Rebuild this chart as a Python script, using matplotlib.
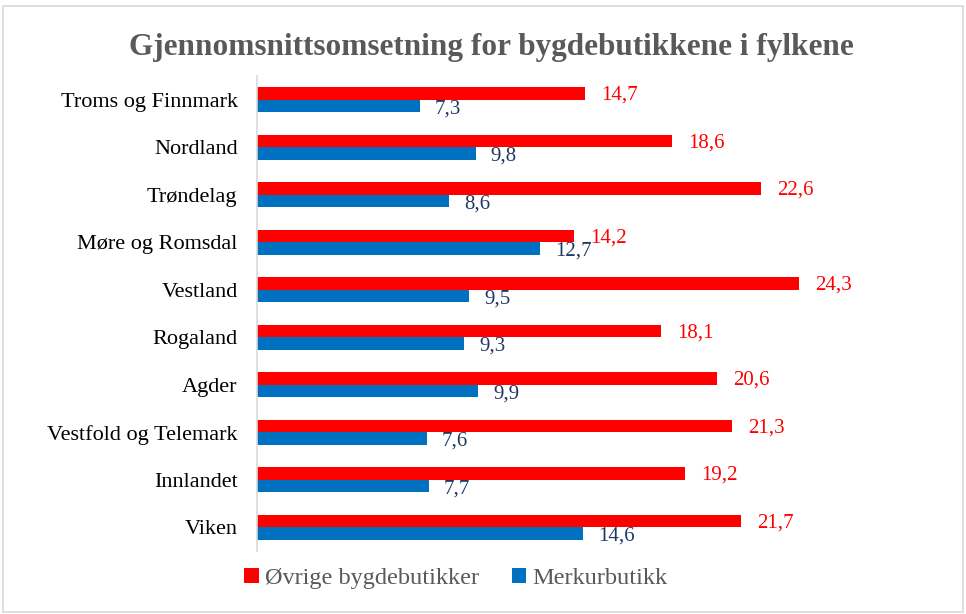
import numpy as np
import matplotlib.pyplot as plt
from matplotlib.patches import Rectangle

fylker = ["Troms og Finnmark", "Nordland", "Trøndelag", "Møre og Romsdal", "Vestland",
          "Rogaland", "Agder", "Vestfold og Telemark", "Innlandet", "Viken"]
ovrige = [14.7, 18.6, 22.6, 14.2, 24.3, 18.1, 20.6, 21.3, 19.2, 21.7]
merkur = [7.3, 9.8, 8.6, 12.7, 9.5, 9.3, 9.9, 7.6, 7.7, 14.6]

red = "#FF0000"
blue = "#0070C0"
navy = "#1F3864"
grey = "#595959"

plt.rcParams['font.family'] = ['Liberation Serif', 'DejaVu Serif']

fig = plt.figure(figsize=(9.66, 6.14), dpi=100)
ax = fig.add_axes([0.266, 0.1026, 0.693, 0.7736])

y = np.arange(len(fylker))
h = 0.265
ax.barh(y - h / 2, ovrige, height=h, color=red, label="Øvrige bygdebutikker")
ax.barh(y + h / 2, merkur, height=h, color=blue, label="Merkurbutikk")

for i in range(len(fylker)):
    ax.text(ovrige[i] + 0.72, y[i] - h / 2 + 0.04, f"{ovrige[i]:.1f}".replace(".", ","),
            color=red, fontsize=15, va="center", ha="left")
    ax.text(merkur[i] + 0.68, y[i] + h / 2 + 0.06, f"{merkur[i]:.1f}".replace(".", ","),
            color=navy, fontsize=15, va="center", ha="left")

ax.set_ylim(len(fylker) - 0.5, -0.5)
ax.set_xlim(0, 30)
ax.set_yticks(y)
ax.set_yticklabels(fylker, fontsize=16)
ax.set_xticks([])
ax.tick_params(axis="y", length=0, pad=14)
for s in ["top", "right", "bottom"]:
    ax.spines[s].set_visible(False)
ax.spines["left"].set_color("#D9D9D9")
ax.spines["left"].set_linewidth(1.2)

fig.text(0.509, 0.923, "Gjennomsnittsomsetning for bygdebutikkene i fylkene",
         ha="center", va="center", fontsize=22.5, fontweight="bold", color=grey)

leg = fig.legend(loc="center", bbox_to_anchor=(0.472, 0.058), ncol=2, frameon=False,
                 fontsize=17.5, handlelength=0.6, handleheight=0.6, handletextpad=0.25,
                 columnspacing=1.35)
for t in leg.get_texts():
    t.set_color(grey)

fig.patches.append(Rectangle((0.003, 0.003), 0.994, 0.987, transform=fig.transFigure,
                             fill=False, edgecolor="#D9D9D9", linewidth=1.2))

fig.savefig("out.png", dpi=100)
